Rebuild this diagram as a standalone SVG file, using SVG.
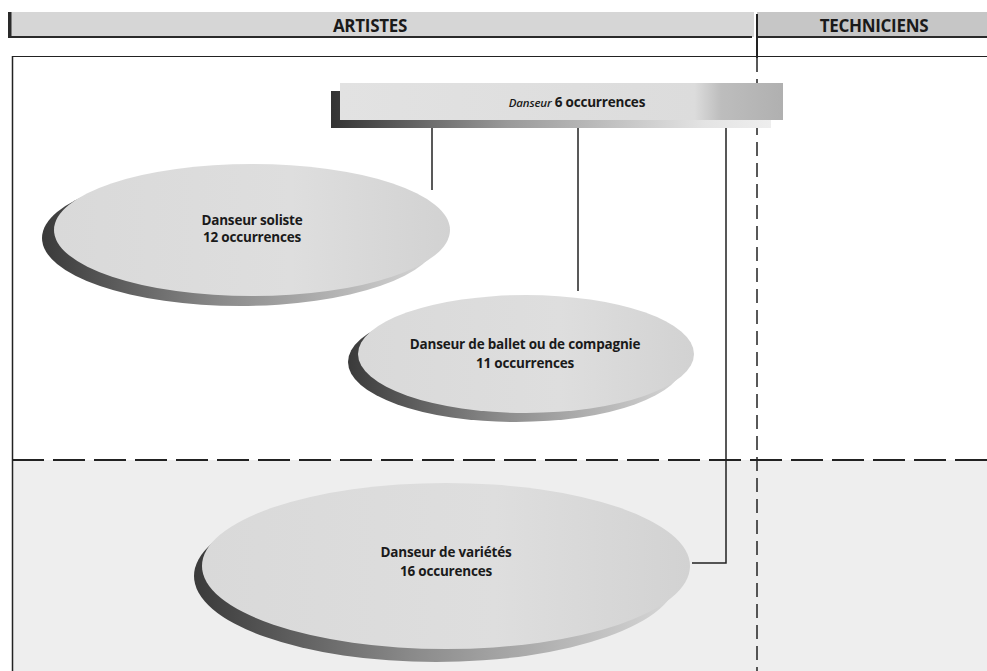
<svg xmlns="http://www.w3.org/2000/svg" width="987" height="671" viewBox="0 0 987 671">
  <defs>
    <style>
      .hdr { font-family: "Open Sans", "Liberation Sans", sans-serif; font-weight: 700; font-size: 17px; fill: #1a1a1a; text-anchor: middle; letter-spacing: -0.3px; }
      .lbl { font-family: "Open Sans", "Liberation Sans", sans-serif; font-weight: 700; font-size: 13.5px; fill: #1a1a1a; text-anchor: middle; letter-spacing: -0.2px; }
      .conn { stroke: #222; stroke-width: 1.5; fill: none; }
      .node-face { fill: url(#faceGrad); }
      .node-shadow { fill: url(#shadowGrad); }
    </style>
    <linearGradient id="shadowGrad" x1="0" y1="0" x2="1" y2="0">
      <stop offset="0" stop-color="#3a3a3a"/>
      <stop offset="0.45" stop-color="#8a8a8a"/>
      <stop offset="1" stop-color="#d8d8d8"/>
    </linearGradient>
    <linearGradient id="faceGrad" x1="0" y1="0" x2="1" y2="0">
      <stop offset="0" stop-color="#d9d9d9"/>
      <stop offset="0.6" stop-color="#dedede"/>
      <stop offset="1" stop-color="#d2d2d2"/>
    </linearGradient>
    <linearGradient id="boxGrad" x1="0" y1="0" x2="1" y2="0">
      <stop offset="0" stop-color="#e2e2e2"/>
      <stop offset="0.8" stop-color="#dcdcdc"/>
      <stop offset="0.86" stop-color="#bdbdbd"/>
      <stop offset="1" stop-color="#b0b0b0"/>
    </linearGradient>
    <linearGradient id="boxShadow" x1="0" y1="0" x2="1" y2="0">
      <stop offset="0" stop-color="#333"/>
      <stop offset="0.4" stop-color="#999"/>
      <stop offset="0.85" stop-color="#e4e4e4"/>
      <stop offset="1" stop-color="#eeeeee"/>
    </linearGradient>
  </defs>

  <!-- page -->
  <rect x="0" y="0" width="987" height="671" fill="#ffffff"/>

  <!-- lower band (varietes zone) -->
  <rect x="12" y="460" width="975" height="211" fill="#eeeeee"/>

  <!-- column headers -->
  <g id="header-artistes">
    <rect x="8" y="12" width="746" height="25" fill="#d6d6d6"/>
    <rect x="8" y="12" width="3.5" height="26" fill="#2a2a2a"/>
    <line x1="8" y1="37" x2="752" y2="37" stroke="#2a2a2a" stroke-width="2"/>
    <text class="hdr" x="370" y="32">ARTISTES</text>
  </g>
  <g id="header-techniciens">
    <rect x="757" y="12" width="230" height="25" fill="#c6c6c6"/>
    <line x1="758" y1="37" x2="987" y2="37" stroke="#2a2a2a" stroke-width="2"/>
    <text class="hdr" x="874" y="32">TECHNICIENS</text>
  </g>

  <!-- frame and zone separators -->
  <g id="frame">
    <line x1="12.5" y1="56" x2="12.5" y2="671" stroke="#222" stroke-width="1.5"/>
    <line x1="12" y1="56.5" x2="987" y2="56.5" stroke="#222" stroke-width="1.2"/>
    <line x1="757" y1="14" x2="757" y2="58" stroke="#222" stroke-width="2"/>
    <line x1="757" y1="58" x2="757" y2="671" stroke="#222" stroke-width="1.5" stroke-dasharray="14,7"/>
    <line x1="12" y1="460" x2="987" y2="460" stroke="#222" stroke-width="2" stroke-dasharray="32,9"/>
  </g>

  <!-- connectors -->
  <g id="connectors">
    <line class="conn" x1="432" y1="128" x2="432" y2="190"/>
    <line class="conn" x1="578" y1="128" x2="578" y2="291"/>
    <polyline class="conn" points="726,128 726,563 692,563"/>
  </g>

  <!-- parent node -->
  <g id="node-danseur">
    <rect x="331" y="91" width="440" height="37" fill="url(#boxShadow)"/>
    <rect x="340" y="83" width="443" height="37" fill="url(#boxGrad)"/>
    <text class="lbl" x="577" y="107"><tspan font-style="italic" font-size="11.5px" font-weight="600">Danseur</tspan> 6 occurrences</text>
  </g>

  <g id="node-soliste">
    <ellipse class="node-shadow" cx="240" cy="238" rx="198" ry="68"/>
    <ellipse class="node-face" cx="252" cy="230" rx="198" ry="66"/>
    <text class="lbl" x="252" y="225">Danseur soliste</text>
    <text class="lbl" x="252" y="242">12 occurrences</text>
  </g>

  <g id="node-ballet">
    <ellipse class="node-shadow" cx="516" cy="362" rx="168" ry="60"/>
    <ellipse class="node-face" cx="526" cy="354" rx="168" ry="59"/>
    <text class="lbl" x="525" y="349">Danseur de ballet ou de compagnie</text>
    <text class="lbl" x="525" y="368">11 occurrences</text>
  </g>

  <g id="node-varietes">
    <ellipse class="node-shadow" cx="436" cy="576" rx="242" ry="86"/>
    <ellipse class="node-face" cx="446" cy="566" rx="244" ry="83"/>
    <text class="lbl" x="446" y="557">Danseur de variétés</text>
    <text class="lbl" x="446" y="576">16 occurences</text>
  </g>
</svg>
